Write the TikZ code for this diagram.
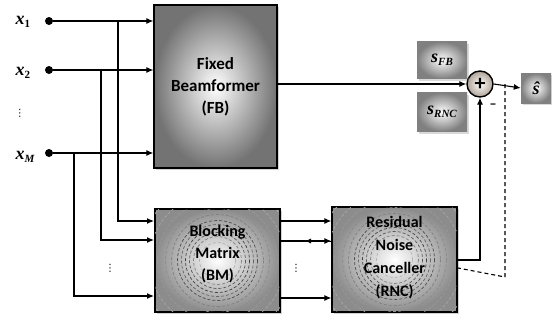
\documentclass[tikz,border=0pt]{standalone}
\usepackage{fontspec}
\setmainfont{Carlito}
\newfontfamily\symfont{DejaVu Sans}
\newfontfamily\mfont{Liberation Serif}
\newcommand{\vlab}[2]{{\mfont\bfseries\itshape #1\raisebox{-0.4ex}{\fontsize{11}{11}\selectfont #2}}}
\newcommand{\vlabn}[2]{{\mfont\bfseries\itshape #1\raisebox{-0.4ex}{\fontsize{11}{11}\selectfont\upshape #2}}}
\usetikzlibrary{arrows.meta,shadows}
\begin{document}
\begin{tikzpicture}[x=1pt,y=-1pt,
  arr/.style={-{Latex[length=7pt,width=6pt]}, line width=1.1pt},
  blk/.style={draw=black, line width=1.3pt, inner sep=0pt, align=center,
    font=\bfseries\fontsize{17}{22}\selectfont,
    drop shadow={opacity=0.35, shadow xshift=2pt, shadow yshift=-2pt}},
  fbshade/.style={shading=radial, inner color=white, outer color=black!55},
  ringshade/.style={shading=radial, inner color=white, outer color=black!45},
  sbox/.style={inner sep=0pt, shading=radial, inner color=white, outer color=black!50,
    drop shadow={opacity=0.3, shadow xshift=2pt, shadow yshift=-2pt},
    font=\fontsize{18}{18}\selectfont},
  indot/.style={circle, fill=black, inner sep=0pt, minimum size=8pt},
  lbl/.style={font=\fontsize{18}{18}\selectfont},
  vdt/.style={font=\symfont\fontsize{10}{10}\selectfont, inner sep=0pt}
]
\useasboundingbox (0,0) rectangle (552,322);

% input dots and labels
\node[indot] (d1) at (49,21) {};
\node[indot] (d2) at (49,70) {};
\node[indot] (dM) at (49,153) {};
\node[lbl] (l1) at (23,22) {\vlabn{x}{1}};
\node[lbl] (l2) at (23,73) {\vlabn{x}{2}};
\node[lbl] (lM) at (25,157) {\vlab{x}{M}};
\node[vdt] (vd) at (20,113) {⋮};

% blocks
\node[blk, fbshade, minimum width=123pt, minimum height=163pt] (FB) at (215.5,86.5)
  {Fixed\\Beamformer\\(FB)};
\node[blk, ringshade, minimum width=125pt, minimum height=103pt] (BM) at (217.5,260.5) {};
\node[blk, ringshade, minimum width=125pt, minimum height=105pt] (RNC) at (394.5,259.5) {};

% ring texture
\foreach \bx in {BM,RNC}{
  \begin{scope}
    \clip (\bx.south west) rectangle (\bx.north east);
    \foreach \r/\c in {18/black!30,24/black!50,28/black!65,32/black!75,36/black!60,40/black!70,46/black!50,52/black!45,60/black!40,68/black!35,78/black!30}{
      \draw[\c, densely dashed, line width=0.7pt] (\bx.center) circle (\r);
    }
  \end{scope}
  \draw[line width=1.3pt] (\bx.south west) rectangle (\bx.north east);
}
\node[align=center, font=\bfseries\fontsize{16}{22}\selectfont] (BMt) at (217.5,254) {Blocking\\Matrix\\(BM)};
\node[align=center, font=\bfseries\fontsize{16}{23}\selectfont] (RNCt) at (394.5,258) {Residual\\Noise\\Canceller\\(RNC)};

% summing junction
\node[circle, draw=black, line width=1.4pt, minimum size=26pt, inner sep=0pt,
  shading=radial, inner color=white, outer color=brown!40!black!45] (sum) at (480,84)
  {\fontsize{22}{22}\selectfont\bfseries +};
\node[font=\bfseries\fontsize{14}{14}\selectfont] (minus) at (493,106) {–};

% signal boxes
\node[sbox, minimum width=50pt, minimum height=37pt] (sfb) at (442,60) {\vlab{s}{FB}};
\node[sbox, minimum width=50pt, minimum height=39pt] (srnc) at (442,112) {\vlab{s}{RNC}};
\node[sbox, minimum width=30pt, minimum height=30pt] (shat) at (536,88) {{\mfont\bfseries\itshape ŝ}};

% inputs to FB
\draw[arr] (d1) -- (d1 -| FB.west);
\draw[arr] (d2) -- (d2 -| FB.west);
\draw[arr] (dM) -- (dM -| FB.west);

% branches to BM
\coordinate (b1) at (118,21);
\coordinate (b2) at (101,70);
\coordinate (bM) at (74,153);
\coordinate (p1) at (154,221);
\coordinate (p2) at (154,240);
\coordinate (pM) at (154,296);
\draw[arr] (b1) |- (p1);
\draw[arr] (b2) |- (p2);
\draw[arr] (bM) |- (pM);
\node[vdt] (vd2) at (110,268) {⋮};

% BM to RNC
\coordinate (q1) at (280,221);
\coordinate (q2) at (280,241);
\coordinate (qM) at (280,298);
\draw[arr] (q1) -- (q1 -| RNC.west);
\draw[arr] (q2) -- (q2 -| RNC.west);
\draw[arr] (qM) -- (qM -| RNC.west);
\draw[dashed, -{Latex[length=6pt,width=5pt]}, line width=0.9pt] (RNC.west |- q2) -- (305,241);
\node[vdt] (vd3) at (296,268) {⋮};

% FB to sum
\draw[arr] (FB.east |- sum) -- (sum.west);
% RNC to sum
\coordinate (r1) at (457,260);
\draw[arr] (r1) -| (sum.south);
% sum to output
\draw[arr] (sum.east) -- (shat.west);
% dashed feedback
\coordinate (e1) at (505,84);
\coordinate (e2) at (505,277);
\coordinate (e3) at (458,268);
\draw[dash pattern=on 4pt off 3pt, line width=1.1pt] (e1) -- (e2) -- (e3);
\end{tikzpicture}
\end{document}
